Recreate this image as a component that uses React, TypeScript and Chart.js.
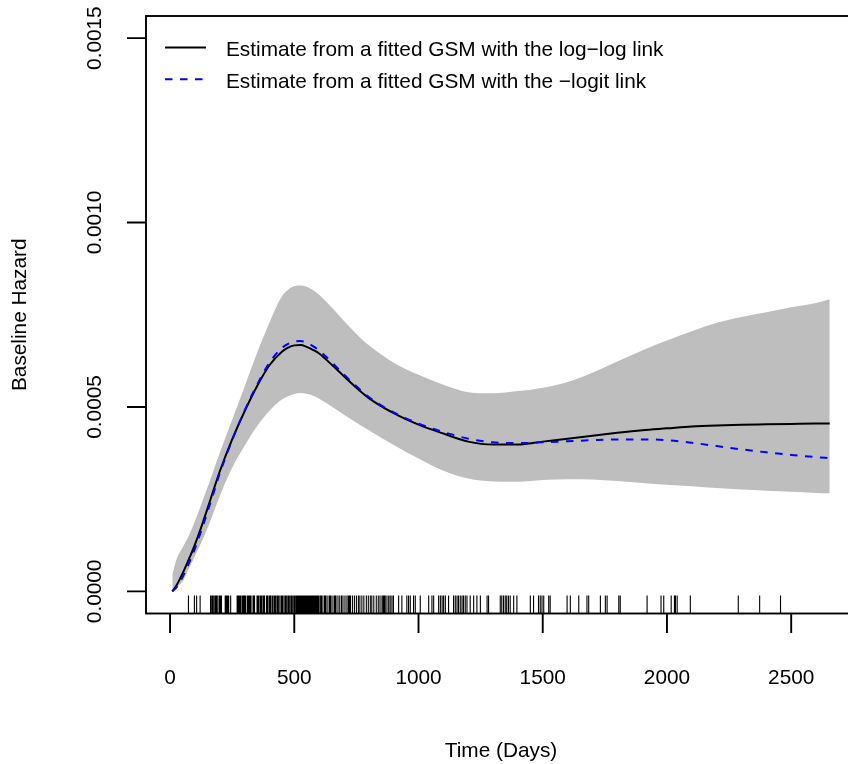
import React, { useEffect, useRef } from "react";
import { Chart, registerables } from "chart.js";

Chart.register(...registerables);

// Time grid (days) at which the fitted curves and the confidence band are read
const days = [
  9, 25, 50, 75, 100, 125, 150, 175, 200, 250, 300, 350, 400, 450, 475, 500, 525, 550, 575, 600,
  650, 700, 750, 800, 900, 1000, 1100, 1200, 1300, 1400, 1500, 1600, 1700, 1800, 1900, 2000, 2100,
  2200, 2300, 2400, 2500, 2600, 2655,
];

// Estimate from a fitted GSM with the log-log link
const logLogHazard = [
  0.0, 0.000015, 0.000048, 0.000086, 0.000127, 0.000173, 0.000223, 0.000275, 0.000325, 0.000412,
  0.000488, 0.000556, 0.000613, 0.00065, 0.000661, 0.000667, 0.000668, 0.000663, 0.000655, 0.000645,
  0.000615, 0.000583, 0.000552, 0.000524, 0.000483, 0.000452, 0.000428, 0.000406, 0.000398, 0.000398,
  0.000406, 0.000414, 0.000422, 0.00043, 0.000437, 0.000442, 0.000447, 0.00045, 0.000452, 0.000453,
  0.000454, 0.000455, 0.000455,
];

// Estimate from a fitted GSM with the -logit link
const logitHazard = [
  0.0, 0.00001, 0.000038, 0.000075, 0.000116, 0.000163, 0.000214, 0.000267, 0.00032, 0.00041,
  0.00049, 0.00056, 0.00062, 0.00066, 0.000671, 0.000677, 0.000679, 0.000674, 0.000665, 0.000653,
  0.000622, 0.000588, 0.000556, 0.000527, 0.000485, 0.000455, 0.000432, 0.000414, 0.000404, 0.000402,
  0.000404, 0.000407, 0.00041, 0.000412, 0.000412, 0.00041, 0.000403, 0.000394, 0.000385, 0.000377,
  0.00037, 0.000364, 0.000361,
];

// Confidence band (grey)
const ciLower = [
  0.0, 0.00001, 0.000027, 0.00006, 0.000096, 0.000131, 0.00017, 0.000214, 0.000258, 0.000335,
  0.000395, 0.000448, 0.00049, 0.00052, 0.000529, 0.000535, 0.000538, 0.000536, 0.000531, 0.000522,
  0.000501, 0.000479, 0.000457, 0.000437, 0.000397, 0.00036, 0.000327, 0.000306, 0.000298, 0.000297,
  0.000302, 0.000304, 0.000303, 0.000299, 0.000294, 0.000289, 0.000285, 0.00028, 0.000276, 0.000273,
  0.00027, 0.000267, 0.000266,
];
const ciUpper = [
  0.000045, 0.000085, 0.000118, 0.00015, 0.00019, 0.000235, 0.00028, 0.000328, 0.000375, 0.000465,
  0.000555, 0.000646, 0.000728, 0.0008, 0.000818, 0.000827, 0.000829, 0.000826, 0.000817, 0.000804,
  0.00077, 0.000733, 0.000698, 0.000667, 0.00062, 0.000587, 0.00056, 0.00054, 0.000537, 0.000543,
  0.000552, 0.000568, 0.000593, 0.000623, 0.000653, 0.00068, 0.000705, 0.000728, 0.000744, 0.000757,
  0.00077, 0.000782, 0.000792,
];

// Observed event times (rug)
const eventTimes = [
  74, 98, 107, 121, 163, 168, 171, 174, 180, 183, 186, 190, 197, 200, 203, 207, 222, 225, 228, 232,
  236, 244, 270, 273, 276, 280, 284, 290, 294, 298, 302, 305, 312, 315, 318, 322, 326, 334, 337, 340,
  350, 353, 356, 362, 365, 368, 374, 377, 380, 388, 391, 394, 400, 403, 406, 412, 418, 421, 424, 430,
  433, 436, 442, 448, 452, 455, 462, 465, 468, 474, 477, 480, 486, 489, 492, 498, 501, 504, 509, 513,
  517, 519, 521, 523, 525, 527, 530, 532, 534, 536, 538, 541, 543, 545, 547, 550, 552, 554, 556, 559,
  561, 563, 566, 568, 570, 573, 575, 578, 580, 582, 585, 588, 590, 592, 595, 598, 600, 606, 609, 612,
  620, 623, 626, 632, 640, 643, 646, 652, 660, 664, 668, 676, 683, 690, 696, 704, 712, 718, 722, 726,
  734, 742, 750, 758, 764, 772, 780, 790, 798, 806, 812, 820, 830, 838, 845, 853, 858, 862, 866, 873,
  880, 886, 893, 899, 920, 933, 953, 960, 967, 980, 987, 1007, 1041, 1054, 1061, 1081, 1088, 1095,
  1101, 1108, 1121, 1141, 1148, 1155, 1161, 1168, 1175, 1181, 1188, 1195, 1208, 1222, 1235, 1249,
  1276, 1282, 1329, 1335, 1342, 1349, 1355, 1362, 1369, 1383, 1396, 1450, 1463, 1483, 1490, 1497,
  1504, 1524, 1530, 1598, 1611, 1645, 1678, 1685, 1732, 1752, 1759, 1806, 1812, 1920, 1976, 1987,
  2017, 2030, 2034, 2041, 2094, 2287, 2373, 2457,
];

const xTicks = [0, 500, 1000, 1500, 2000, 2500];
const xTickLabels = ["0", "500", "1000", "1500", "2000", "2500"];
const yTicks = [0, 0.0005, 0.001, 0.0015];
const yTickLabels = ["0.0000", "0.0005", "0.0010", "0.0015"];
const xTitle = "Time (Days)";
const yTitle = "Baseline Hazard";
const legendLabels = [
  "Estimate from a fitted GSM with the log\u2212log link",
  "Estimate from a fitted GSM with the \u2212logit link",
];

const FONT = '20.8px "Liberation Sans", Arial, Helvetica, sans-serif';

export default function App() {
  const ref = useRef<HTMLCanvasElement>(null);

  useEffect(() => {
    const canvas = ref.current;
    if (!canvas) return;
    const pts = (vals: number[]) => days.map((d, i) => ({ x: d, y: vals[i] }));

    const rPlot = {
      id: "rPlot",
      afterDraw(chart: any) {
        const { ctx, chartArea: a, scales } = chart;
        const xs = scales.x;
        const ys = scales.y;
        ctx.save();
        ctx.strokeStyle = "#000";
        ctx.fillStyle = "#000";
        ctx.lineWidth = 1.9;
        ctx.setLineDash([]);
        ctx.strokeRect(a.left, a.top, a.right - a.left, a.bottom - a.top);

        ctx.beginPath();
        xTicks.forEach((v) => {
          const px = xs.getPixelForValue(v);
          ctx.moveTo(px, a.bottom);
          ctx.lineTo(px, a.bottom + 19.5);
        });
        yTicks.forEach((v) => {
          const py = ys.getPixelForValue(v);
          ctx.moveTo(a.left, py);
          ctx.lineTo(a.left - 19, py);
        });
        ctx.stroke();

        ctx.font = FONT;
        ctx.textAlign = "center";
        ctx.textBaseline = "alphabetic";
        xTicks.forEach((v, i) => {
          ctx.fillText(xTickLabels[i], xs.getPixelForValue(v), a.bottom + 70);
        });
        yTicks.forEach((v, i) => {
          ctx.save();
          ctx.translate(a.left - 45, ys.getPixelForValue(v));
          ctx.rotate(-Math.PI / 2);
          ctx.fillText(yTickLabels[i], 0, 0);
          ctx.restore();
        });
        ctx.fillText(xTitle, (a.left + a.right) / 2, a.bottom + 143.5);
        ctx.save();
        ctx.translate(a.left - 120, (a.top + a.bottom) / 2);
        ctx.rotate(-Math.PI / 2);
        ctx.fillText(yTitle, 0, 0);
        ctx.restore();

        // rug
        ctx.lineWidth = 1.1;
        ctx.beginPath();
        const rugLen = (a.bottom - a.top) * 0.03;
        eventTimes.forEach((t) => {
          const px = xs.getPixelForValue(t);
          ctx.moveTo(px, a.bottom);
          ctx.lineTo(px, a.bottom - rugLen);
        });
        ctx.stroke();

        // legend
        const rows = [a.top + 31.5, a.top + 63.3];
        ctx.lineWidth = 2;
        ctx.strokeStyle = "#000";
        ctx.setLineDash([]);
        ctx.beginPath();
        ctx.moveTo(a.left + 19, rows[0]);
        ctx.lineTo(a.left + 60, rows[0]);
        ctx.stroke();
        ctx.strokeStyle = "#0000FF";
        ctx.setLineDash([7.5, 7.5]);
        ctx.beginPath();
        ctx.moveTo(a.left + 19, rows[1]);
        ctx.lineTo(a.left + 60, rows[1]);
        ctx.stroke();
        ctx.setLineDash([]);
        ctx.textAlign = "left";
        legendLabels.forEach((t, i) => ctx.fillText(t, a.left + 80, rows[i] + 8.2));
        ctx.restore();
      },
    };

    const chart = new Chart(canvas, {
      type: "line",
      data: {
        datasets: [
          {
            label: legendLabels[1],
            data: pts(logitHazard),
            borderColor: "#0000FF",
            borderWidth: 2,
            borderDash: [7.5, 7.5],
            pointRadius: 0,
            cubicInterpolationMode: "monotone",
            fill: false,
            order: 0,
          },
          {
            label: legendLabels[0],
            data: pts(logLogHazard),
            borderColor: "#000000",
            borderWidth: 2,
            pointRadius: 0,
            cubicInterpolationMode: "monotone",
            fill: false,
            order: 1,
          },
          {
            label: "lower",
            data: pts(ciLower),
            borderColor: "rgba(0,0,0,0)",
            borderWidth: 0,
            pointRadius: 0,
            cubicInterpolationMode: "monotone",
            fill: false,
            order: 3,
          },
          {
            label: "upper",
            data: pts(ciUpper),
            borderColor: "rgba(0,0,0,0)",
            backgroundColor: "#BEBEBE",
            borderWidth: 0,
            pointRadius: 0,
            cubicInterpolationMode: "monotone",
            fill: { target: 2 },
            order: 2,
          },
        ],
      },
      options: {
        responsive: false,
        animation: false,
        layout: { padding: { left: 146, top: 16, right: 0, bottom: 150.5 } },
        scales: {
          x: { type: "linear", min: -96.8, max: 2760.8, display: false },
          y: { type: "linear", min: -0.00006, max: 0.00156, display: false },
        },
        plugins: {
          legend: { display: false },
          tooltip: { enabled: false },
        },
      },
      plugins: [rPlot],
    } as any);

    return () => chart.destroy();
  }, []);

  return (
    <div
      style={{
        position: "fixed",
        left: 0,
        top: 0,
        width: 848,
        height: 764,
        overflow: "hidden",
        background: "#fff",
      }}
    >
      <canvas ref={ref} width={856} height={764} style={{ display: "block" }} />
    </div>
  );
}
